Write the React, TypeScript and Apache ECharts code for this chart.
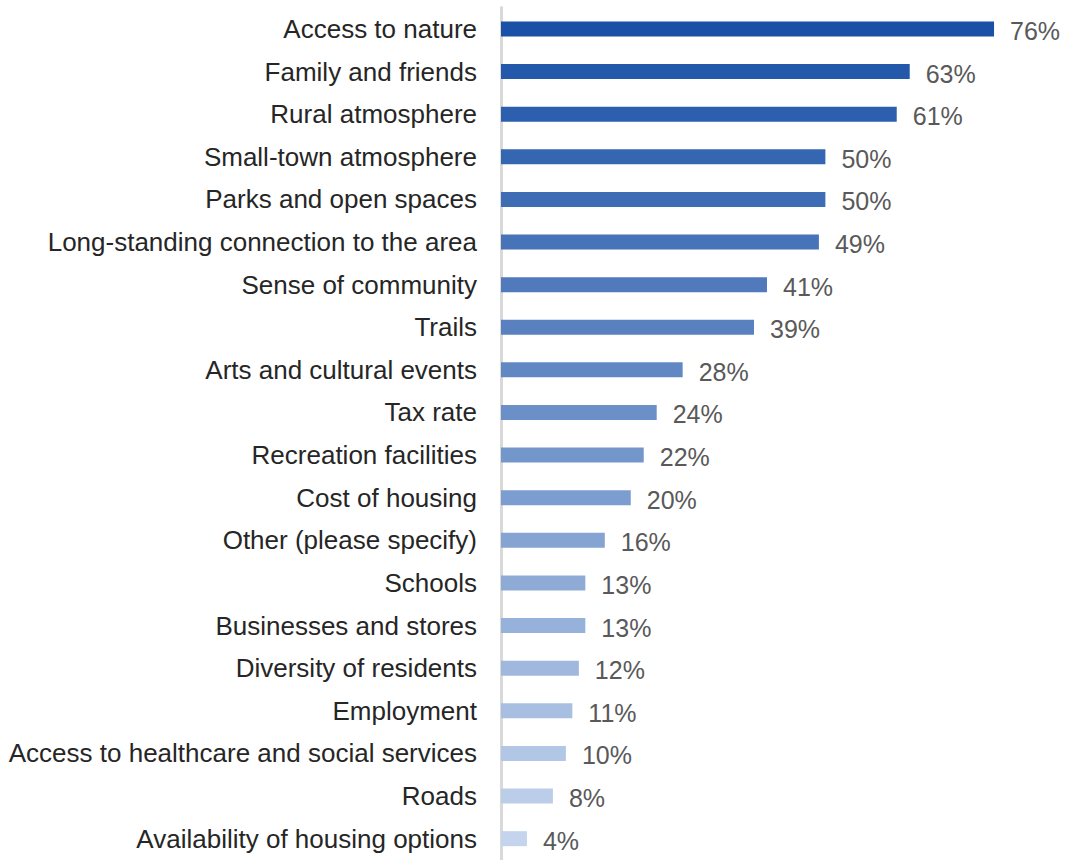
import React, { useEffect, useRef } from "react";
import * as echarts from "echarts";

const categories = [
  "Access to nature",
  "Family and friends",
  "Rural atmosphere",
  "Small-town atmosphere",
  "Parks and open spaces",
  "Long-standing connection to the area",
  "Sense of community",
  "Trails",
  "Arts and cultural events",
  "Tax rate",
  "Recreation facilities",
  "Cost of housing",
  "Other (please specify)",
  "Schools",
  "Businesses and stores",
  "Diversity of residents",
  "Employment",
  "Access to healthcare and social services",
  "Roads",
  "Availability of housing options",
];

const values = [76, 63, 61, 50, 50, 49, 41, 39, 28, 24, 22, 20, 16, 13, 13, 12, 11, 10, 8, 4];

const DARK = [0x1a, 0x51, 0xa6];
const LIGHT = [0xc4, 0xd4, 0xec];

function shade(i: number, n: number) {
  const t = n <= 1 ? 0 : i / (n - 1);
  const c = DARK.map((d, k) => Math.round(d + (LIGHT[k] - d) * t));
  return `rgb(${c[0]},${c[1]},${c[2]})`;
}

export default function App() {
  const ref = useRef<HTMLDivElement>(null);
  useEffect(() => {
    if (!ref.current) return;
    const chart = echarts.init(ref.current, undefined, { renderer: "svg" });
    const n = categories.length;
    chart.setOption({
      animation: false,
      grid: { left: 501, right: 53, top: 7.6, height: 856.8, containLabel: false },
      xAxis: {
        type: "value",
        min: 0,
        max: 80,
        show: false,
      },
      yAxis: {
        type: "category",
        inverse: true,
        data: categories,
        axisLine: { show: true, lineStyle: { color: "#d9d9d9", width: 3 } },
        axisTick: { show: false },
        axisLabel: {
          margin: 24,
          color: "#262626",
          fontSize: 26,
          fontFamily: "Liberation Sans, Arial, sans-serif",
        },
      },
      series: [
        {
          type: "bar",
          barWidth: 15,
          data: values.map((v, i) => ({ value: v, itemStyle: { color: shade(i, n) } })),
          label: {
            show: true,
            position: "right",
            distance: 16,
            formatter: "{c}%",
            color: "#595959",
            fontSize: 25,
            fontFamily: "Liberation Sans, Arial, sans-serif",
            offset: [0, 2],
          },
        },
      ],
    });
    return () => chart.dispose();
  }, []);
  return (
    <div
      ref={ref}
      style={{ position: "absolute", left: 0, top: 0, width: 1073, height: 860, background: "#fff" }}
    />
  );
}
